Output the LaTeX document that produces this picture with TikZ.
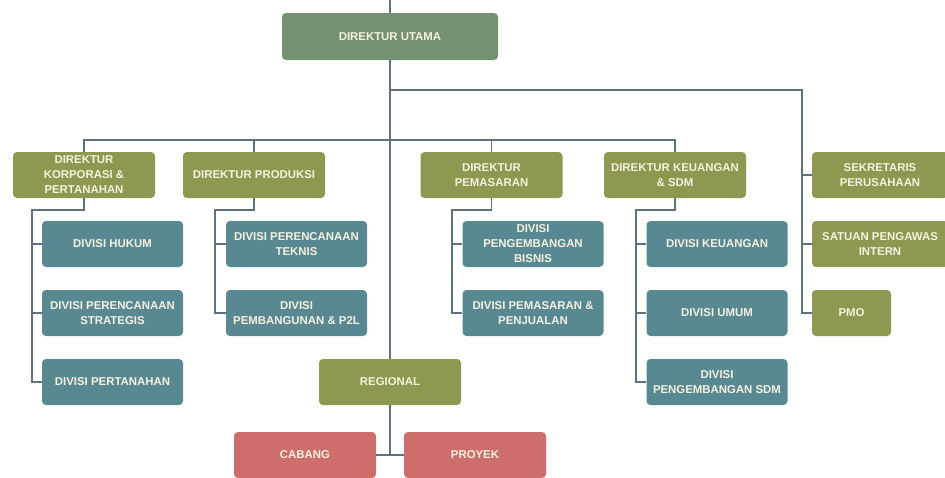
\documentclass[tikz,border=0pt]{standalone}
\usepackage{fontspec}
\setmainfont{Liberation Sans}
\definecolor{cdu}{RGB}{115,146,114}
\definecolor{cdir}{RGB}{143,152,80}
\definecolor{cdiv}{RGB}{88,137,146}
\definecolor{cred}{RGB}{205,110,106}
\definecolor{cline}{RGB}{96,114,126}
\definecolor{ctext}{RGB}{245,241,222}
\tikzset{
  box/.style={rounded corners=4pt, minimum height=46pt, inner sep=0pt, align=center,
    text=ctext, font=\fontsize{11.4}{15}\selectfont\bfseries},
  dubox/.style={box, fill=cdu, minimum width=216pt, minimum height=47pt},
  dirbox/.style={box, fill=cdir, minimum width=142pt},
  divbox/.style={box, fill=cdiv, minimum width=141pt},
  redbox/.style={box, fill=cred, minimum width=142pt},
  conn/.style={draw=cline, line width=1.1pt}
}
\begin{document}
\begin{tikzpicture}[x=1pt,y=-1pt]
\useasboundingbox[fill=white] (0,0) rectangle (945,477);
% top
\node[dubox] (du) at (390,36.5) {DIREKTUR UTAMA};
% directors
\node[dirbox] (kor) at (84,175) {DIREKTUR\\KORPORASI \&\\PERTANAHAN};
\node[dirbox] (prod) at (254,175) {DIREKTUR PRODUKSI};
\node[dirbox] (pem) at (491.5,175) {DIREKTUR\\PEMASARAN};
\node[dirbox] (keu) at (675,175) {DIREKTUR KEUANGAN\\\& SDM};
\node[dirbox, minimum width=136pt] (sek) at (880,175) {SEKRETARIS\\PERUSAHAAN};
\node[dirbox, minimum width=136pt] (spi) at (880,244) {SATUAN PENGAWAS\\INTERN};
\node[dirbox, minimum width=79pt] (pmo) at (851.5,313) {PMO};
% divisions
\node[divbox] (hukum) at (112.5,244) {DIVISI HUKUM};
\node[divbox] (strat) at (112.5,313) {DIVISI PERENCANAAN\\STRATEGIS};
\node[divbox] (tanah) at (112.5,382) {DIVISI PERTANAHAN};
\node[divbox] (teknis) at (296.5,244) {DIVISI PERENCANAAN\\TEKNIS};
\node[divbox] (p2l) at (296.5,313) {DIVISI\\PEMBANGUNAN \& P2L};
\node[divbox] (bisnis) at (533,244) {DIVISI\\PENGEMBANGAN\\BISNIS};
\node[divbox] (jual) at (533,313) {DIVISI PEMASARAN \&\\PENJUALAN};
\node[divbox] (uang) at (717,244) {DIVISI KEUANGAN};
\node[divbox] (umum) at (717,313) {DIVISI UMUM};
\node[divbox] (sdm) at (717,382) {DIVISI\\PENGEMBANGAN SDM};
% regional
\node[dirbox] (reg) at (390,382) {REGIONAL};
\node[redbox] (cab) at (305,455) {CABANG};
\node[redbox] (pro) at (475,455) {PROYEK};
% coordinates
\coordinate (top) at (390,0);
\coordinate (rbus) at (802,90);
\coordinate (dbus) at (0,140);
\coordinate (kbus) at (32,210);
\coordinate (pbus) at (215,210);
\coordinate (mbus) at (452,210);
\coordinate (ubus) at (636,210);
% connectors
\draw[conn] (top) -- (du.north);
\draw[conn] (du.south) -- (reg.north);
\draw[conn] (du.south |- rbus) -- (rbus) |- (pmo.west);
\draw[conn] (rbus |- sek.west) -- (sek.west);
\draw[conn] (rbus |- spi.west) -- (spi.west);
\draw[conn] (kor.north) |- (keu.north |- dbus) -- (keu.north);
\draw[conn] (prod.north |- dbus) -- (prod.north);
\draw[conn] (pem.north |- dbus) -- (pem.north);
% korporasi children
\draw[conn] (kor.south) |- (kbus) |- (tanah.west);
\draw[conn] (kbus |- hukum.west) -- (hukum.west);
\draw[conn] (kbus |- strat.west) -- (strat.west);
% produksi children
\draw[conn] (prod.south) |- (pbus) |- (p2l.west);
\draw[conn] (pbus |- teknis.west) -- (teknis.west);
% pemasaran children
\draw[conn] (pem.south) |- (mbus) |- (jual.west);
\draw[conn] (mbus |- bisnis.west) -- (bisnis.west);
% keuangan children
\draw[conn] (keu.south) |- (ubus) |- (sdm.west);
\draw[conn] (ubus |- uang.west) -- (uang.west);
\draw[conn] (ubus |- umum.west) -- (umum.west);
% regional children
\draw[conn] (reg.south) -- (reg.south |- cab.east);
\draw[conn] (cab.east) -- (pro.west);
\end{tikzpicture}
\end{document}
